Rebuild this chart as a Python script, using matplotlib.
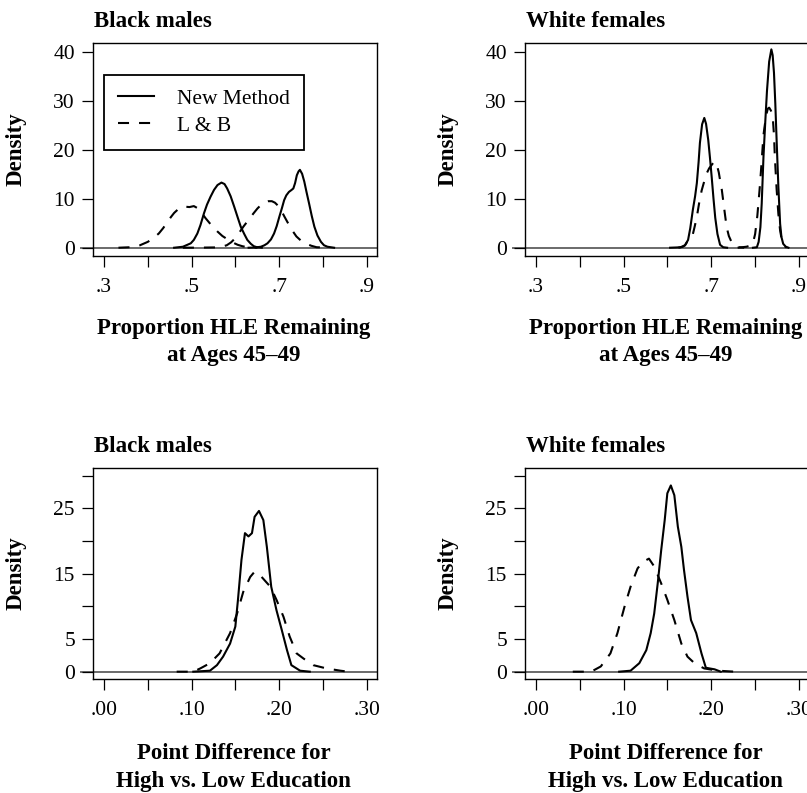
import numpy as np
import matplotlib.pyplot as plt

plt.rcParams['font.family'] = ['Liberation Serif', 'DejaVu Serif']

# ---- top row: proportion HLE remaining at ages 45-49 (low / high education curves)
bm_new_low_x = [0.46, 0.48, 0.498, 0.505, 0.513, 0.52, 0.528, 0.535, 0.543, 0.551, 0.559, 0.568, 0.575,
                0.581, 0.589, 0.597, 0.605, 0.612, 0.62, 0.627, 0.635, 0.642, 0.65, 0.66]
bm_new_low_y = [0.0, 0.2, 0.9, 1.6, 2.9, 4.6, 7.0, 8.8, 10.4, 11.8, 12.8, 13.3, 13.0,
                12.1, 10.5, 8.4, 6.2, 4.3, 2.8, 1.6, 0.8, 0.3, 0.08, 0.0]
bm_new_high_x = [0.63, 0.645, 0.658, 0.666, 0.673, 0.681, 0.688, 0.694, 0.700, 0.706, 0.711, 0.716, 0.722,
                 0.728, 0.732, 0.736, 0.740, 0.744, 0.747, 0.752, 0.757, 0.762, 0.768, 0.774, 0.780,
                 0.787, 0.795, 0.802, 0.810, 0.825]
bm_new_high_y = [0.0, 0.05, 0.2, 0.5, 0.9, 1.7, 2.9, 4.4, 6.3, 8.1, 9.7, 10.7, 11.4,
                 11.8, 12.1, 13.2, 14.8, 15.6, 15.9, 15.1, 13.5, 11.4, 9.0, 6.5, 4.3,
                 2.5, 1.2, 0.5, 0.2, 0.0]
bm_lb_low_x = [0.333, 0.36, 0.382, 0.40, 0.413, 0.425, 0.435, 0.445, 0.453, 0.46, 0.472, 0.482, 0.495,
               0.505, 0.515, 0.523, 0.532, 0.545, 0.559, 0.57, 0.582, 0.593, 0.605, 0.616, 0.628, 0.65]
bm_lb_low_y = [0.0, 0.1, 0.5, 1.2, 2.0, 2.9, 4.0, 5.3, 6.3, 7.1, 8.1, 8.4, 8.3,
               8.5, 8.0, 7.1, 6.0, 4.6, 3.3, 2.4, 1.7, 1.1, 0.6, 0.3, 0.1, 0.0]
bm_lb_high_x = [0.48, 0.52, 0.56, 0.57, 0.58, 0.59, 0.599, 0.608, 0.618, 0.63, 0.641, 0.65, 0.66, 0.668,
                0.675, 0.683, 0.690, 0.698, 0.705, 0.712, 0.72, 0.729, 0.739, 0.75, 0.762, 0.773, 0.785, 0.815]
bm_lb_high_y = [0.0, 0.02, 0.07, 0.25, 0.5, 1.1, 1.9, 3.0, 4.3, 5.7, 7.0, 8.0, 8.9, 9.3,
                9.5, 9.5, 9.2, 8.5, 7.5, 6.3, 5.0, 3.6, 2.3, 1.4, 0.8, 0.4, 0.1, 0.0]

wf_new_low_x = [0.606, 0.620, 0.630, 0.640, 0.647, 0.652, 0.658, 0.663, 0.667, 0.671, 0.674, 0.679, 0.684,
                0.688, 0.693, 0.697, 0.701, 0.705, 0.709, 0.714, 0.72, 0.727, 0.736]
wf_new_low_y = [0.0, 0.05, 0.1, 0.5, 1.6, 4.0, 7.8, 10.5, 13.2, 17.5, 21.4, 25.2, 26.5,
                25.3, 22.0, 18.3, 14.3, 10.0, 6.1, 2.8, 0.6, 0.1, 0.0]
wf_new_high_x = [0.795, 0.804, 0.808, 0.812, 0.815, 0.819, 0.823, 0.827, 0.832, 0.837, 0.840, 0.843,
                 0.846, 0.849, 0.853, 0.857, 0.860, 0.864, 0.870, 0.876]
wf_new_high_y = [0.0, 0.1, 1.2, 4.2, 9.0, 18.5, 25.5, 32.0, 38.0, 40.5, 39.3, 35.7,
                 29.5, 22.0, 12.5, 4.9, 2.2, 0.8, 0.2, 0.0]
wf_lb_low_x = [0.625, 0.635, 0.64, 0.647, 0.653, 0.658, 0.662, 0.667, 0.672, 0.678, 0.684, 0.689, 0.695,
               0.700, 0.705, 0.709, 0.713, 0.717, 0.720, 0.724, 0.727, 0.731, 0.735, 0.740, 0.746, 0.754,
               0.762, 0.775]
wf_lb_low_y = [0.0, 0.2, 0.5, 1.5, 2.2, 2.8, 4.3, 6.3, 9.0, 11.7, 13.6, 15.1, 16.2,
               16.8, 17.4, 17.6, 16.8, 15.4, 13.8, 11.8, 9.7, 6.9, 4.2, 2.4, 1.2, 0.4,
               0.1, 0.0]
wf_lb_high_x = [0.76, 0.78, 0.792, 0.796, 0.800, 0.805, 0.810, 0.814, 0.819, 0.825, 0.829, 0.832, 0.836,
                0.840, 0.843, 0.845, 0.849, 0.853, 0.857, 0.861, 0.866, 0.872]
wf_lb_high_y = [0.0, 0.2, 0.5, 1.3, 2.8, 6.5, 11.7, 16.5, 23.0, 27.0, 28.4, 28.6, 28.0,
                26.9, 23.0, 18.5, 12.0, 6.9, 3.5, 1.5, 0.4, 0.0]

# ---- bottom row: point difference for high vs. low education
bm_new_diff_x = [0.102, 0.121, 0.129, 0.136, 0.144, 0.150, 0.153, 0.157, 0.161, 0.165, 0.169, 0.172, 0.177,
                 0.182, 0.186, 0.191, 0.197, 0.203, 0.209, 0.214, 0.224, 0.235]
bm_new_diff_y = [0.0, 0.15, 1.0, 2.3, 4.3, 6.9, 11.0, 17.1, 21.2, 20.7, 21.2, 23.7, 24.6,
                 23.2, 19.1, 13.0, 9.4, 6.4, 3.3, 1.0, 0.15, 0.0]
bm_lb_diff_x = [0.083, 0.102, 0.110, 0.121, 0.132, 0.144, 0.152, 0.159, 0.167, 0.172, 0.180, 0.190, 0.197,
                0.205, 0.212, 0.220, 0.228, 0.239, 0.254, 0.270, 0.279]
bm_lb_diff_y = [0.0, 0.0, 0.5, 1.3, 2.8, 5.9, 8.9, 12.2, 14.5, 15.3, 14.5, 13.0, 11.0,
                8.4, 5.4, 2.8, 2.0, 1.0, 0.5, 0.15, 0.0]

wf_new_diff_x = [0.095, 0.108, 0.118, 0.126, 0.131, 0.135, 0.139, 0.143, 0.147, 0.150, 0.154, 0.158, 0.162,
                 0.166, 0.169, 0.173, 0.177, 0.183, 0.189, 0.194, 0.204, 0.211]
wf_new_diff_y = [0.0, 0.15, 1.3, 3.3, 5.9, 8.9, 13.5, 18.6, 23.2, 27.3, 28.5, 27.0, 22.2,
                 19.1, 15.6, 11.5, 7.9, 5.9, 2.8, 0.6, 0.36, 0.0]
wf_lb_diff_x = [0.042, 0.063, 0.074, 0.085, 0.093, 0.101, 0.108, 0.116, 0.122, 0.129, 0.135, 0.143, 0.150,
                0.158, 0.166, 0.173, 0.181, 0.192, 0.208, 0.227]
wf_lb_diff_y = [0.0, 0.0, 0.8, 2.8, 5.9, 9.9, 13.0, 15.8, 16.8, 17.3, 16.1, 13.5, 11.0,
                7.9, 4.3, 2.3, 1.3, 0.5, 0.15, 0.0]

top_xticks = [0.3, 0.4, 0.5, 0.6, 0.7, 0.8, 0.9]
top_xlabels = ['.3', '', '.5', '', '.7', '', '.9']
top_yticks = [0, 10, 20, 30, 40]
top_ylabels = ['0', '10', '20', '30', '40']
bot_xticks = [0.0, 0.05, 0.10, 0.15, 0.20, 0.25, 0.30]
bot_xlabels = ['.00', '', '.10', '', '.20', '', '.30']
bot_yticks = [0, 5, 10, 15, 20, 25, 30]
bot_ylabels = ['0', '5', '', '15', '', '25', '']

solid = dict(color='black', lw=1.5, linestyle='-', solid_joinstyle='round')
dashed = dict(color='black', lw=1.5, linestyle=(0, (5.3, 4.8)), dash_joinstyle='round')

fig = plt.figure(figsize=(8.07, 7.93), dpi=100)
W, H = 807.0, 793.0
LBL = 16.5


def panel(left, top, bottom, xlim, ylim, xt, xl, yt, yl, title, labs, curves):
    ax = fig.add_axes([left / W, 1 - bottom / H, 284 / W, (bottom - top) / H])
    for x, y, st in curves:
        ax.plot(x, y, **st)
    ax.axhline(0, xmin=-0.042, xmax=1, color='#6a6a6a', lw=1.4, clip_on=False, zorder=1)
    ax.set_xlim(xlim)
    ax.set_ylim(ylim)
    ax.set_xticks(xt)
    ax.set_xticklabels(xl)
    ax.set_yticks(yt)
    ax.set_yticklabels(yl)
    ax.tick_params(direction='out', length=8, width=0.9, labelsize=15.5)
    ax.tick_params(axis='x', pad=8)
    ax.tick_params(axis='y', pad=5)
    for sp in ax.spines.values():
        sp.set_linewidth(1.0)
    ax.text(0.005, 1.075, title, transform=ax.transAxes, fontsize=LBL,
            fontweight='bold', va='baseline', ha='left')
    ax.text(-0.27, 0.5, 'Density', transform=ax.transAxes, fontsize=LBL,
            fontweight='bold', rotation=90, va='center', ha='center')
    h = bottom - top
    for base, txt in labs:
        ax.text(0.495, -(base - bottom) / h, txt, transform=ax.transAxes, fontsize=LBL,
                fontweight='bold', va='baseline', ha='center')
    return ax


top_xlim = (0.2749, 0.9229)
top_ylim = (-1.69, 41.8)
bot_xlim = (-0.01256, 0.3118)
bot_ylim = (-1.12, 31.17)
top_labs = [(334, 'Proportion HLE Remaining'), (361, 'at Ages 45–49')]
bot_labs = [(759, 'Point Difference for'), (787, 'High vs. Low Education')]

ax1 = panel(93, 43, 256, top_xlim, top_ylim, top_xticks, top_xlabels, top_yticks, top_ylabels,
            'Black males', top_labs,
            [(bm_new_low_x, bm_new_low_y, solid), (bm_new_high_x, bm_new_high_y, solid),
             (bm_lb_low_x, bm_lb_low_y, dashed), (bm_lb_high_x, bm_lb_high_y, dashed)])
ax2 = panel(525, 43, 256, top_xlim, top_ylim, top_xticks, top_xlabels, top_yticks, top_ylabels,
            'White females', top_labs,
            [(wf_new_low_x, wf_new_low_y, solid), (wf_new_high_x, wf_new_high_y, solid),
             (wf_lb_low_x, wf_lb_low_y, dashed), (wf_lb_high_x, wf_lb_high_y, dashed)])
ax3 = panel(93, 468, 679, bot_xlim, bot_ylim, bot_xticks, bot_xlabels, bot_yticks, bot_ylabels,
            'Black males', bot_labs,
            [(bm_new_diff_x, bm_new_diff_y, solid), (bm_lb_diff_x, bm_lb_diff_y, dashed)])
ax4 = panel(525, 468, 679, bot_xlim, bot_ylim, bot_xticks, bot_xlabels, bot_yticks, bot_ylabels,
            'White females', bot_labs,
            [(wf_new_diff_x, wf_new_diff_y, solid), (wf_lb_diff_x, wf_lb_diff_y, dashed)])

h1 = ax1.lines[0]
h2 = ax1.lines[2]
leg = ax1.legend([h1, h2], ['New Method', 'L & B'], loc='upper left',
                 bbox_to_anchor=(0.0387, 0.85), fontsize=15.5, frameon=True, fancybox=False,
                 edgecolor='black', framealpha=1, borderpad=0.65, handlelength=1.65,
                 handletextpad=1.1, labelspacing=0.3, borderaxespad=0)
leg.get_frame().set_linewidth(1.3)

fig.savefig('out.png', dpi=100)
